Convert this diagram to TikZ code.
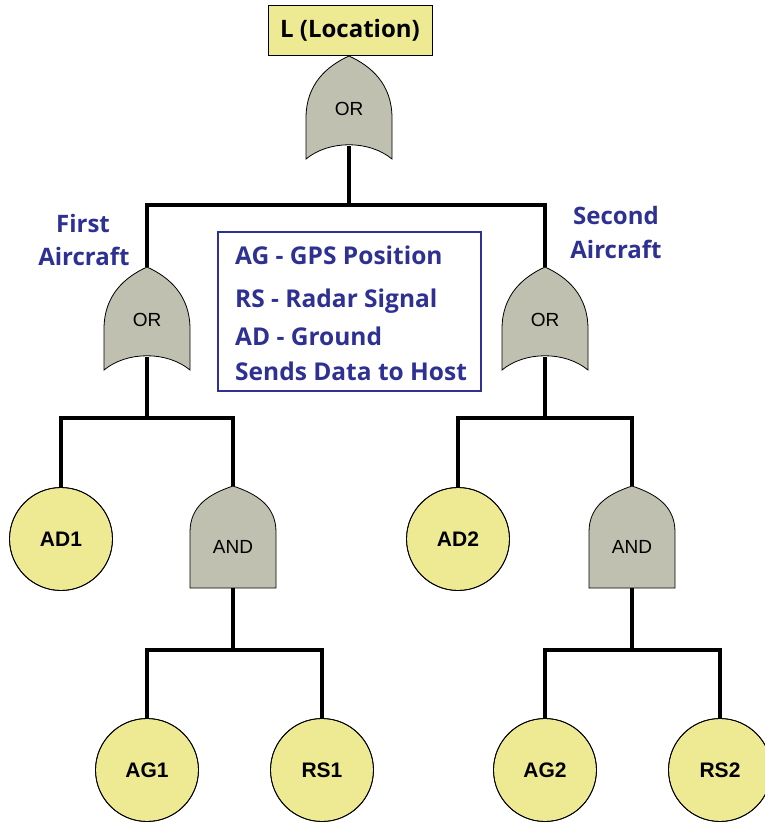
\documentclass[tikz,border=0pt]{standalone}
\usepackage{fontspec}
\setmainfont{Liberation Sans}
\newfontfamily\hum{Open Sans}
\definecolor{evfill}{RGB}{238,234,148}
\definecolor{gatefill}{RGB}{192,192,176}
\definecolor{navy}{RGB}{46,49,146}
\begin{document}
\begin{tikzpicture}[x=1pt,y=-1pt,
  wire/.style={line width=3.4pt,line join=miter},
  outline/.style={draw=black,line width=0.8pt},
  event/.style={circle,outline,fill=evfill,minimum size=103pt,inner sep=0pt,font=\fontsize{21}{21}\selectfont\bfseries},
  topbox/.style={rectangle,outline,fill=evfill,minimum width=164pt,minimum height=50pt,inner sep=0pt,font=\hum\fontsize{24}{24}\selectfont\bfseries},
  gatelbl/.style={font=\fontsize{19}{19}\selectfont,inner sep=0pt},
  bluetxt/.style={text=navy,font=\hum\fontsize{24}{24}\selectfont\bfseries,inner sep=0pt},
  legtxt/.style={bluetxt,font=\hum\fontsize{24.5}{24.5}\selectfont\bfseries,anchor=base west},
  orgate/.pic={
    \path[outline,fill=gatefill] (0,0) .. controls (-22,10) and (-43,28) .. (-43,62)
      -- (-43,103) .. controls (-20,84) and (20,84) .. (43,103)
      -- (43,62) .. controls (43,28) and (22,10) .. (0,0) -- cycle;
    \coordinate (-tip) at (0,0);
    \coordinate (-bot) at (0,90);
    \node[gatelbl] (-lbl) at (0,53) {OR};
  },
  andgate/.pic={
    \path[outline,fill=gatefill] (0,0) .. controls (-24,8) and (-43,20) .. (-43,46)
      -- (-43,102) -- (43,102) -- (43,46)
      .. controls (43,20) and (24,8) .. (0,0) -- cycle;
    \coordinate (-tip) at (0,0);
    \coordinate (-bot) at (0,102);
    \node[gatelbl] (-lbl) at (0,61) {AND};
  }]
\useasboundingbox (0,0) rectangle (765,825);

% top event
\node[topbox] (top) at (350,30) {L (Location)};

% gates
\pic (g0) at (349,56) {orgate};
\pic (g1) at (147,267) {orgate};
\pic (g2) at (545,267) {orgate};
\pic (a1) at (233,486) {andgate};
\pic (a2) at (632,486) {andgate};

% basic events
\node[event] (ad1) at (61,539) {AD1};
\node[event] (ad2) at (458,539) {AD2};
\node[event] (ag1) at (147,770) {AG1};
\node[event] (rs1) at (322,770) {RS1};
\node[event] (ag2) at (545,770) {AG2};
\node[event] (rs2) at (720,770) {RS2};

% junction points of the wiring (the y axis points down)
\coordinate (j0) at ([yshift=-59pt]g0-bot);
\coordinate (j1) at ([yshift=-61pt]g1-bot);
\coordinate (j2) at ([yshift=-61pt]g2-bot);
\coordinate (j3) at ([yshift=-62pt]a1-bot);
\coordinate (j4) at ([yshift=-62pt]a2-bot);

% wiring
\draw[wire] (g0-bot) -- (j0);
\draw[wire] (g1-tip) |- (j0) -| (g2-tip);
\draw[wire] (g1-bot) -- (j1);
\draw[wire] (ad1.north) |- (j1) -| (a1-tip);
\draw[wire] (g2-bot) -- (j2);
\draw[wire] (ad2.north) |- (j2) -| (a2-tip);
\draw[wire] (a1-bot) -- (j3);
\draw[wire] (ag1.north) |- (j3) -| (rs1.north);
\draw[wire] (a2-bot) -- (j4);
\draw[wire] (ag2.north) |- (j4) -| (rs2.north);

% redraw event outlines over the wire ends
\foreach \e in {ad1,ad2,ag1,rs1,ag2,rs2}{
  \draw[outline] (\e) circle (51.5pt);
}

% side labels
\node[bluetxt,anchor=base] (first) at (83,232) {First};
\node[bluetxt,anchor=base] (firstb) at (84,265) {Aircraft};
\node[bluetxt,anchor=base] (second) at (616,224) {Second};
\node[bluetxt,anchor=base] (secondb) at (616,258) {Aircraft};

% legend
\node[draw=navy,line width=1.2pt,minimum width=263pt,minimum height=159pt,inner sep=0pt] (legend) at (349.5,311.5) {};
\node[legtxt] (leg1) at (235,264) {AG - GPS Position};
\node[legtxt] (leg2) at (235,307) {RS - Radar Signal};
\node[legtxt] (leg3) at (235,345) {AD - Ground};
\node[legtxt] (leg4) at (235,380) {Sends Data to Host};
\end{tikzpicture}
\end{document}
